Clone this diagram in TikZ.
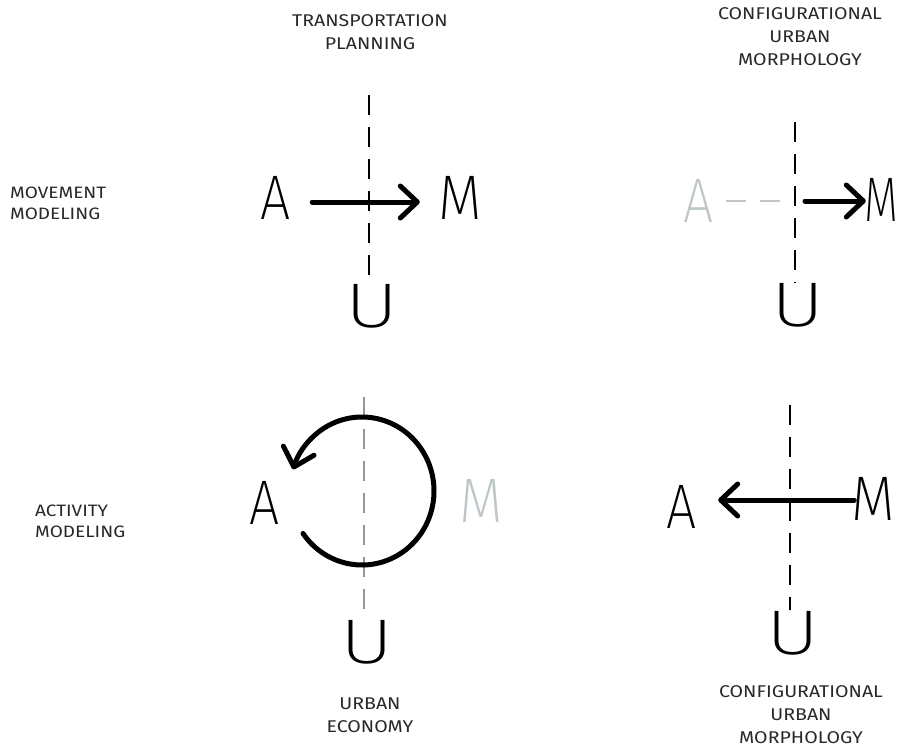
\documentclass[tikz,border=0pt]{standalone}
\usepackage{fontspec}
\setmainfont{Fira Sans Light}
\newfontfamily\thinfont{Fira Sans ExtraLight}
\newfontfamily\lblfont{Fira Sans}[FakeStretch=1.15]
\usetikzlibrary{arrows.meta}
\definecolor{faint}{RGB}{190,198,201}
\definecolor{midgray}{RGB}{150,150,150}
\definecolor{lblgray}{RGB}{40,40,40}
\begin{document}
\begin{tikzpicture}[x=1pt,y=-1pt,
  bigl/.style={inner sep=0pt, minimum height=45pt, font=\thinfont\fontsize{63}{63}\selectfont},
  lbl/.style={inner sep=0pt, align=center, text=lblgray, font=\lblfont\fontsize{17}{23}\selectfont},
  lbll/.style={inner sep=0pt, align=left, anchor=west, text=lblgray, font=\lblfont\fontsize{16.5}{21}\selectfont},
  axis/.style={line width=1.4pt, dash pattern=on 20pt off 12pt},
  bigarrow/.style={line width=5pt, line cap=round,
    -{Straight Barb[length=17pt, width=32pt, line width=5pt, round]}},
  faintdash/.style={faint, line width=2.5pt, dash pattern=on 20pt off 14pt}]
\useasboundingbox (0,0) rectangle (899,749);

% ---------- titles and row labels ----------
\node[lbl] (t1) at (370,32) {TRANSPORTATION\\PLANNING};
\node[lbl] (t2) at (800,37) {CONFIGURATIONAL\\URBAN\\MORPHOLOGY};
\node[lbll] (r1) at (10,203) {MOVEMENT\\MODELING};
\node[lbll] (r2) at (35,521) {ACTIVITY\\MODELING};
\node[lbl] (b1) at (370,715) {URBAN\\ECONOMY};
\node[lbl] (b2) at (801,715) {CONFIGURATIONAL\\URBAN\\MORPHOLOGY};

% ---------- panel 1 ----------
\node[bigl, minimum width=28pt] (A1) at (276,198) {\makebox[0pt]{\scalebox{0.85}[1]{A}}};
\node[bigl, minimum width=40pt] (M1) at (460,198) {\makebox[0pt]{\scalebox{0.9}[1]{M}}};
\node[bigl, minimum width=41pt] (U1) at (372,306) {\makebox[0pt]{\scalebox{1.3}[1]{U}}};
\coordinate (top1) at (369,95);
\draw[axis] (top1) -- (top1 |- U1.north);
\draw[bigarrow, shorten <=22pt, shorten >=20pt] (A1.east |- 0,202) -- (M1.west |- 0,202);

% ---------- panel 2 ----------
\node[bigl, minimum width=30pt, text=faint] (A2) at (699,201) {\makebox[0pt]{\scalebox{0.85}[1]{A}}};
\node[bigl, minimum width=24pt] (M2) at (881,200) {\makebox[0pt]{\scalebox{0.7}[1]{M}}};
\node[bigl, minimum width=41pt] (U2) at (798,305) {\makebox[0pt]{\scalebox{1.3}[1]{U}}};
\coordinate (top2) at (795,122);
\coordinate (c2) at (795,201);
\draw[axis] (top2) -- (top2 |- U2.north);
\draw[faintdash, shorten <=12pt, shorten >=10pt] (A2.east) -- (c2);
\draw[bigarrow, shorten <=10pt, shorten >=3pt] (c2) -- (M2.west |- c2);

% ---------- panel 3 ----------
\node[bigl, minimum width=34pt] (A3) at (265,503) {\makebox[0pt]{\scalebox{0.85}[1]{A}}};
\node[bigl, minimum width=34pt, text=faint] (M3) at (481,501) {\makebox[0pt]{\scalebox{0.9}[1]{M}}};
\node[bigl, minimum width=42pt] (U3) at (367,642) {\makebox[0pt]{\scalebox{1.3}[1]{U}}};
\coordinate (top3) at (364,397);
\coordinate (c3) at (362,491);
\draw[axis, midgray] (top3) -- (top3 |- U3.north);
\draw[bigarrow] ([shift={(145:72 and 74)}]c3) arc[start angle=145, end angle=-163, x radius=72, y radius=74];

% ---------- panel 4 ----------
\node[bigl, minimum width=32pt] (A4) at (682,507) {\makebox[0pt]{\scalebox{0.85}[1]{A}}};
\node[bigl, minimum width=35pt] (M4) at (873,499) {\makebox[0pt]{\scalebox{0.9}[1]{M}}};
\node[bigl, minimum width=41pt] (U4) at (793,633) {\makebox[0pt]{\scalebox{1.3}[1]{U}}};
\coordinate (top4) at (790,405);
\draw[axis] (top4) -- (top4 |- U4.north);
\draw[bigarrow, shorten <=1pt, shorten >=20pt] (M4.west |- 0,500) -- (A4.east |- 0,500);
\end{tikzpicture}
\end{document}
